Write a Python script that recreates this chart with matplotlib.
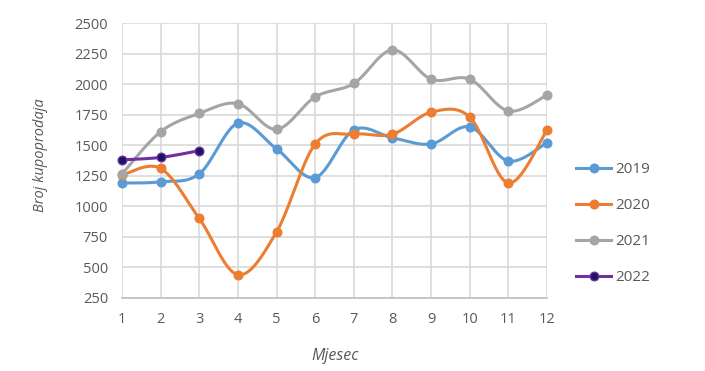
import numpy as np
import matplotlib
matplotlib.use("Agg")
import matplotlib.pyplot as plt

months = [1, 2, 3, 4, 5, 6, 7, 8, 9, 10, 11, 12]
s2019 = [1190, 1200, 1265, 1680, 1470, 1235, 1625, 1560, 1510, 1650, 1370, 1520]
s2020 = [1255, 1310, 900, 440, 790, 1510, 1590, 1590, 1770, 1730, 1190, 1625]
s2021 = [1265, 1610, 1760, 1840, 1630, 1895, 2005, 2280, 2040, 2040, 1780, 1910]
months22 = [1, 2, 3]
s2022 = [1380, 1400, 1455]
yticks = [250, 500, 750, 1000, 1250, 1500, 1750, 2000, 2250, 2500]

plt.rcParams['font.family'] = ['Open Sans', 'DejaVu Sans']

fig = plt.figure(figsize=(7.05, 3.71), dpi=100)
ax = fig.add_axes([0.173, 0.197, 0.603, 0.741])


def smooth(x, y, n=30):
    x = np.asarray(x, float)
    y = np.asarray(y, float)
    xs, ys = [x[0]], [y[0]]
    m = len(x)
    for i in range(m - 1):
        p0 = np.array([x[i - 1], y[i - 1]]) if i > 0 else np.array([x[i], y[i]])
        p1 = np.array([x[i], y[i]])
        p2 = np.array([x[i + 1], y[i + 1]])
        p3 = np.array([x[i + 2], y[i + 2]]) if i + 2 < m else p2
        c1 = p1 + (p2 - p0) / 6.0
        c2 = p2 - (p3 - p1) / 6.0
        t = np.linspace(0, 1, n)[1:]
        b = ((1 - t) ** 3)[:, None] * p1 + (3 * (1 - t) ** 2 * t)[:, None] * c1 \
            + (3 * (1 - t) * t ** 2)[:, None] * c2 + (t ** 3)[:, None] * p2
        xs.extend(b[:, 0])
        ys.extend(b[:, 1])
    return np.array(xs), np.array(ys)


series = [
    ("2019", months, s2019, "#5B9BD5", "#5B9BD5"),
    ("2020", months, s2020, "#ED7D31", "#ED7D31"),
    ("2021", months, s2021, "#A5A5A5", "#A5A5A5"),
    ("2022", months22, s2022, "#7030A0", "#1B1464"),
]
for name, xv, yv, lc, mc in series:
    sx, sy = smooth(xv, yv)
    ax.plot(sx, sy, color=lc, lw=2.2, zorder=3, solid_capstyle='round')
    ax.plot(xv, yv, linestyle='none', marker='o', ms=6.2, mfc=mc, mec=lc,
            mew=1.0, zorder=4, clip_on=False)
    ax.plot([], [], color=lc, lw=2.2, marker='o', ms=6.2, mfc=mc, mec=lc,
            mew=1.0, label=name)

ax.set_xlim(1, 12)
ax.set_ylim(250, 2500)
ax.set_xticks(months)
ax.set_yticks(yticks)
ax.grid(True, color='#D9D9D9', lw=1.2)
ax.set_axisbelow(True)
for s in ['top', 'right', 'left']:
    ax.spines[s].set_visible(False)
ax.spines['bottom'].set_color('#BFBFBF')
ax.spines['bottom'].set_linewidth(1.2)
ax.tick_params(length=0, colors='#595959', labelsize=10.5)
ax.tick_params(axis='x', pad=10)
ax.tick_params(axis='y', pad=10)

fig.text(335 / 705, 1 - 356 / 371, 'Mjesec', fontsize=11.5, style='italic',
         color='#595959', ha='center', va='center')
fig.text(40 / 705, 1 - 155 / 371, 'Broj kupoprodaja', fontsize=10.5,
         style='italic', color='#595959', ha='center', va='center',
         rotation=90)

leg = fig.legend(loc='upper left', bbox_to_anchor=(576 / 705, 1 - 162 / 371),
                 frameon=False, fontsize=11, labelspacing=1.38,
                 handlelength=2.3, handletextpad=0.3, borderaxespad=0,
                 borderpad=0, labelcolor='#595959')

fig.savefig('out.png', dpi=100)
